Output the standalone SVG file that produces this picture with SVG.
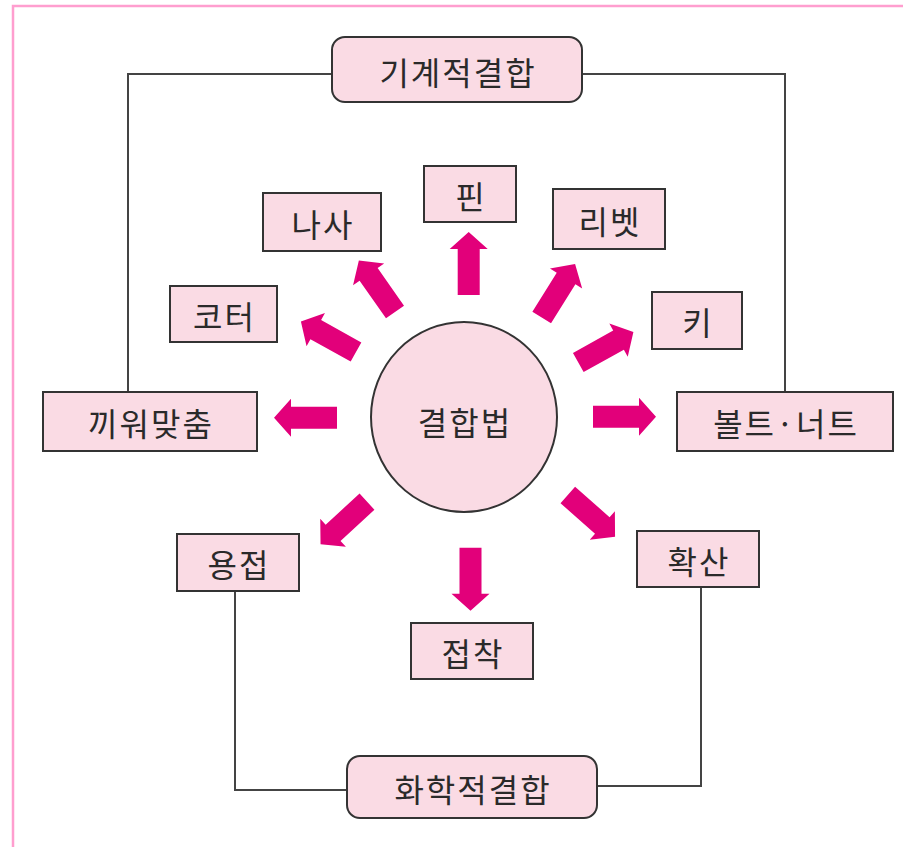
<svg xmlns="http://www.w3.org/2000/svg" width="903" height="847" viewBox="0 0 903 847">
<defs>
<style>
.bx{fill:#FADBE4;stroke:#333;stroke-width:2}
.ln{fill:none;stroke:#444;stroke-width:2}
.ar{fill:#E2007A}
.t{font-family:"Noto Sans CJK KR","Noto Sans",sans-serif;font-size:32px;fill:#2a2a2a;text-anchor:middle;dominant-baseline:central;letter-spacing:2px}
</style>
<path id="arw" d="M0,-11 H46 V-19 L63,0 L46,19 V11 H0 Z"/>
</defs>
<rect width="903" height="847" fill="#fff"/>
<path d="M13,847 V6 H903" fill="none" stroke="#FF9ECF" stroke-width="2.5"/>
<g id="connectors">
<path class="ln" d="M128,392 V74 H332"/>
<path class="ln" d="M582,74 H785 V392"/>
<path class="ln" d="M235,591 V790 H347"/>
<path class="ln" d="M597,786 H701 V587"/>
</g>
<g id="arrows">
<use href="#arw" class="ar" transform="translate(468.7,295) rotate(-90)"/>
<use href="#arw" class="ar" transform="translate(395,312) rotate(-125)"/>
<use href="#arw" class="ar" transform="translate(541.7,317.5) rotate(-58)"/>
<use href="#arw" class="ar" transform="translate(356,352) rotate(-151)"/>
<use href="#arw" class="ar" transform="translate(578.3,362.5) rotate(-29)"/>
<use href="#arw" class="ar" transform="translate(337,417.8) rotate(180)"/>
<use href="#arw" class="ar" transform="translate(593,416.8)"/>
<use href="#arw" class="ar" transform="translate(367,501.7) rotate(137.5)"/>
<use href="#arw" class="ar" transform="translate(470.5,547.7) rotate(90)"/>
<use href="#arw" class="ar" transform="translate(567.8,495) rotate(41.4)"/>
</g>
<g id="center">
<ellipse class="bx" cx="464" cy="417" rx="93" ry="95"/>
<text class="t" x="465" y="421">결합법</text>
</g>
<g id="mech">
<rect class="bx" x="332" y="37" width="250" height="65" rx="13"/>
<text class="t" x="458" y="71">기계적결합</text>
</g>
<g id="chem">
<rect class="bx" x="347" y="756" width="250" height="62" rx="13"/>
<text class="t" x="473" y="788">화학적결합</text>
</g>
<g id="nasa">
<rect class="bx" x="263" y="193" width="118" height="58"/>
<text class="t" x="323" y="223">나사</text>
</g>
<g id="pin">
<rect class="bx" x="424" y="166" width="92" height="56"/>
<text class="t" x="471" y="195">핀</text>
</g>
<g id="rivet">
<rect class="bx" x="553" y="189" width="112" height="60"/>
<text class="t" x="610" y="220">리벳</text>
</g>
<g id="cotter">
<rect class="bx" x="170" y="286" width="107" height="56"/>
<text class="t" x="224.5" y="315">코터</text>
</g>
<g id="key">
<rect class="bx" x="652" y="292" width="90" height="57"/>
<text class="t" x="698" y="321">키</text>
</g>
<g id="fit">
<rect class="bx" x="43" y="392" width="214" height="59"/>
<text class="t" x="151" y="422">끼워맞춤</text>
</g>
<g id="bolt">
<rect class="bx" x="677" y="392" width="216" height="59"/>
<text class="t" x="786" y="422">볼트·너트</text>
</g>
<g id="weld">
<rect class="bx" x="177" y="534" width="122" height="57"/>
<text class="t" x="239" y="563">용접</text>
</g>
<g id="diffusion">
<rect class="bx" x="637" y="531" width="122" height="56"/>
<text class="t" x="699" y="560">확산</text>
</g>
<g id="adhesion">
<rect class="bx" x="411" y="623" width="122" height="56"/>
<text class="t" x="473" y="652">접착</text>
</g>
</svg>
